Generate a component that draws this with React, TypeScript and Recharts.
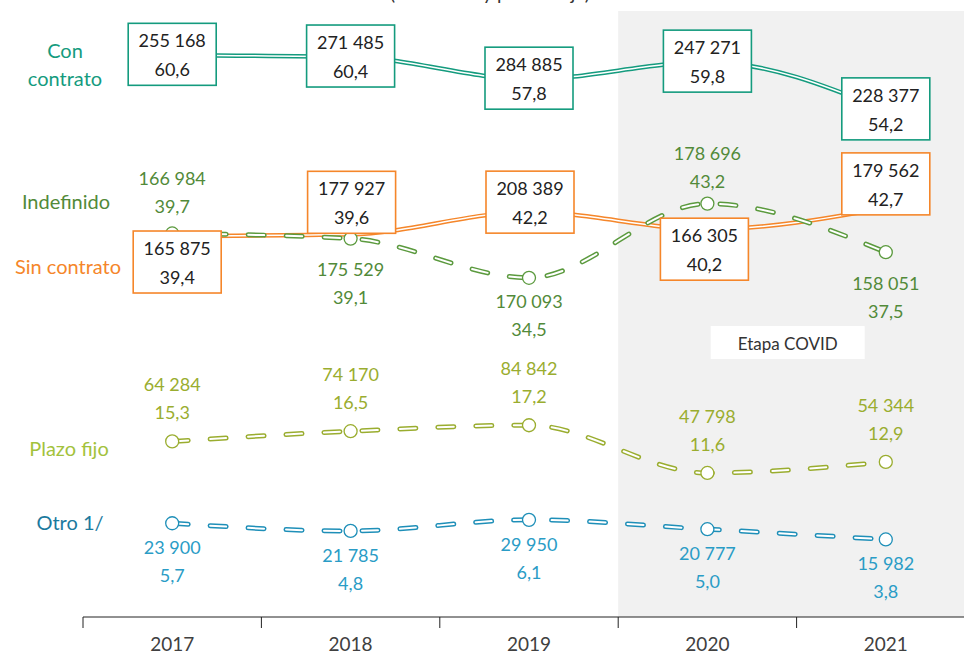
import React from 'react';
import {
  LineChart,
  Line,
  XAxis,
  YAxis,
  ReferenceArea,
  ReferenceDot,
  LabelList,
} from 'recharts';

// Years on the x axis
const years = ['2017', '2018', '2019', '2020', '2021'];

// Absolute values and shares (%) per contract type
const conContratoN = [255168, 271485, 284885, 247271, 228377];
const conContratoPct = [60.6, 60.4, 57.8, 59.8, 54.2];
const sinContratoN = [165875, 177927, 208389, 166305, 179562];
const sinContratoPct = [39.4, 39.6, 42.2, 40.2, 42.7];
const indefinidoN = [166984, 175529, 170093, 178696, 158051];
const indefinidoPct = [39.7, 39.1, 34.5, 43.2, 37.5];
const plazoFijoN = [64284, 74170, 84842, 47798, 54344];
const plazoFijoPct = [15.3, 16.5, 17.2, 11.6, 12.9];
const otroN = [23900, 21785, 29950, 20777, 15982];
const otroPct = [5.7, 4.8, 6.1, 5.0, 3.8];

const rows = years.map((year, i) => ({
  i,
  year,
  con: conContratoPct[i],
  sin: sinContratoPct[i],
  ind: indefinidoPct[i],
  pla: plazoFijoPct[i],
  otr: otroPct[i],
}));

// Colors
const TEAL = '#149b7e';
const ORANGE = '#f5862a';
const GREEN = '#5b9a3e';
const GREEN_TXT = '#528a39';
const OLIVE = '#9aad2f';
const BLUE = '#1e8fb8';
const FONT = 'Lato, "Open Sans", sans-serif';

// Layout
const W = 1000;
const H = 655;
const M = { top: 11, right: 25, bottom: 0, left: 83 };
const BAND = (W - M.left - M.right) / years.length;

// label placement (px offsets from the point)
const sinBoxDx = [5, 1, 1, -3, 0];
const sinBoxDy = [26, -32, -10, 20, -24];
const indTextDy = [-55, 30, 23, -51, 31];

const fmtN = (n: number) => String(n).replace(/\B(?=(\d{3})+(?!\d))/g, ' ');
const fmtP = (v: number) => v.toFixed(1).replace('.', ',');

const boxLabel = (nums: number[], pcts: number[], color: string, dxs?: number[], dys?: number[]) =>
  (p: any) => {
    const i = p.index;
    const cx = p.x + (dxs ? dxs[i] : 0);
    const cy = p.y + (dys ? dys[i] : -1);
    return (
      <g>
        <rect x={cx - 44} y={cy - 31} width={88} height={62} fill="#fff" stroke={color} strokeWidth={1.6} />
        <text x={cx} y={cy - 14} textAnchor="middle" dominantBaseline="central" fontSize={18} fontFamily={FONT} fill="#222">
          {fmtN(nums[i])}
        </text>
        <text x={cx} y={cy + 15} textAnchor="middle" dominantBaseline="central" fontSize={18} fontFamily={FONT} fill="#222">
          {fmtP(pcts[i])}
        </text>
      </g>
    );
  };

const textLabel = (nums: number[], pcts: number[], color: string, dys: number[] | number) =>
  (p: any) => {
    const i = p.index;
    const dy = Array.isArray(dys) ? dys[i] : dys;
    return (
      <g>
        <text x={p.x} y={p.y + dy} textAnchor="middle" dominantBaseline="central" fontSize={18} fontFamily={FONT} fill={color}>
          {fmtN(nums[i])}
        </text>
        <text x={p.x} y={p.y + dy + 28} textAnchor="middle" dominantBaseline="central" fontSize={18} fontFamily={FONT} fill={color}>
          {fmtP(pcts[i])}
        </text>
      </g>
    );
  };

const marker = (color: string) => (p: any) => (
  <circle key={`d-${p.index}`} cx={p.cx} cy={p.cy} r={6.5} fill="#fff" stroke={color} strokeWidth={1.3} />
);

const YearTick = (props: any) => {
  const { x, y, payload } = props;
  const idx = Math.round(payload.value + 0.5);
  if (idx >= years.length) return null;
  return (
    <text x={x + BAND / 2} y={y + 21} textAnchor="middle" fill="#404040" fontSize={19} fontFamily={FONT}>
      {years[idx]}
    </text>
  );
};

const CovidBox = (p: any) => (
  <g>
    <rect x={p.cx - 77} y={p.cy - 16.5} width={154} height={33} fill="#fff" />
    <text x={p.cx} y={p.cy + 1} textAnchor="middle" dominantBaseline="central" fontSize={17} fontFamily={FONT} fill="#333">
      Etapa COVID
    </text>
  </g>
);

const seriesNames = [
  { text: 'Con', x: 65, y: 50, color: TEAL },
  { text: 'contrato', x: 65, y: 78, color: TEAL },
  { text: 'Indefinido', x: 66, y: 201, color: GREEN_TXT },
  { text: 'Sin contrato', x: 68, y: 266, color: ORANGE },
  { text: 'Plazo fijo', x: 69, y: 448, color: '#a3c23c' },
  { text: 'Otro 1/', x: 70, y: 522, color: '#1b7a9e' },
];

const DASH = '16 22';

export default function App() {
  return (
    <div style={{ position: 'absolute', left: 0, top: 0, width: 964, height: 655, overflow: 'hidden', background: '#fff' }}>
      <div
        style={{
          position: 'absolute', left: 490, top: -17, transform: 'translateX(-50%)',
          fontFamily: FONT, fontSize: 19, color: '#333', whiteSpace: 'nowrap', lineHeight: '19px',
        }}
      >
        (Absolutos y porcentaje)
      </div>
      <LineChart width={W} height={H} data={rows} margin={M}>
        <ReferenceArea x1={2.5} x2={4.5} y1={-5.3} y2={65.8} fill="#f1f1f1" fillOpacity={1} stroke="none" />
        <XAxis
          type="number"
          dataKey="i"
          domain={[-0.5, 4.5]}
          ticks={[-0.5, 0.5, 1.5, 2.5, 3.5, 4.5]}
          height={38}
          tickSize={11}
          tickMargin={2}
          stroke="#222"
          tick={<YearTick />}
          interval={0}
        />
        <YAxis hide domain={[-5.3, 65.8]} />
        <ReferenceDot x={3.45} y={26.9} r={0} shape={<CovidBox />} />

        {/* Otro */}
        <Line type="monotone" dataKey="otr" stroke={BLUE} strokeWidth={5} strokeDasharray={DASH} strokeLinecap="round" dot={false} activeDot={false} isAnimationActive={false} />
        <Line type="monotone" dataKey="otr" stroke="#fff" strokeWidth={2} strokeDasharray={DASH} strokeLinecap="round" dot={marker(BLUE)} activeDot={false} isAnimationActive={false}>
          <LabelList dataKey="otr" content={textLabel(otroN, otroPct, '#2a9cc6', 24)} />
        </Line>

        {/* Plazo fijo */}
        <Line type="monotone" dataKey="pla" stroke={OLIVE} strokeWidth={5} strokeDasharray={DASH} strokeLinecap="round" dot={false} activeDot={false} isAnimationActive={false} />
        <Line type="monotone" dataKey="pla" stroke="#fff" strokeWidth={2} strokeDasharray={DASH} strokeLinecap="round" dot={marker(OLIVE)} activeDot={false} isAnimationActive={false}>
          <LabelList dataKey="pla" content={textLabel(plazoFijoN, plazoFijoPct, OLIVE, -57)} />
        </Line>

        {/* Sin contrato line */}
        <Line type="monotone" dataKey="sin" stroke={ORANGE} strokeWidth={4.5} dot={false} activeDot={false} isAnimationActive={false} />
        <Line type="monotone" dataKey="sin" stroke="#fff" strokeWidth={1.5} dot={false} activeDot={false} isAnimationActive={false} />

        {/* Indefinido */}
        <Line type="monotone" dataKey="ind" stroke={GREEN} strokeWidth={5} strokeDasharray={DASH} strokeLinecap="round" dot={false} activeDot={false} isAnimationActive={false} />
        <Line type="monotone" dataKey="ind" stroke="#fff" strokeWidth={2} strokeDasharray={DASH} strokeLinecap="round" dot={marker(GREEN)} activeDot={false} isAnimationActive={false}>
          <LabelList dataKey="ind" content={textLabel(indefinidoN, indefinidoPct, GREEN_TXT, indTextDy)} />
        </Line>

        {/* Sin contrato boxes */}
        <Line type="monotone" dataKey="sin" stroke="none" dot={false} activeDot={false} isAnimationActive={false}>
          <LabelList dataKey="sin" content={boxLabel(sinContratoN, sinContratoPct, ORANGE, sinBoxDx, sinBoxDy)} />
        </Line>

        {/* Con contrato */}
        <Line type="monotone" dataKey="con" stroke={TEAL} strokeWidth={4.5} dot={false} activeDot={false} isAnimationActive={false} />
        <Line type="monotone" dataKey="con" stroke="#fff" strokeWidth={1.5} dot={false} activeDot={false} isAnimationActive={false}>
          <LabelList dataKey="con" content={boxLabel(conContratoN, conContratoPct, TEAL)} />
        </Line>
      </LineChart>
      {seriesNames.map((s) => (
        <div
          key={s.text}
          style={{
            position: 'absolute', left: s.x, top: s.y, transform: 'translate(-50%, -50%)',
            fontFamily: FONT, fontSize: 20, color: s.color, whiteSpace: 'nowrap', lineHeight: '24px',
          }}
        >
          {s.text}
        </div>
      ))}
    </div>
  );
}
